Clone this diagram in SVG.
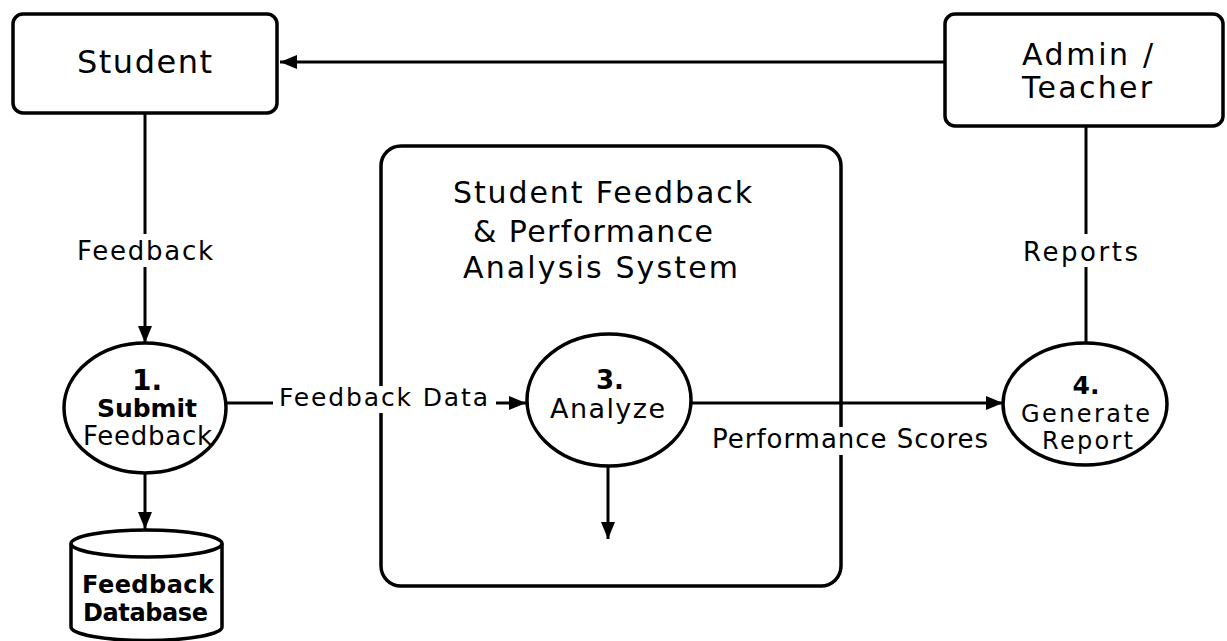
<svg xmlns="http://www.w3.org/2000/svg" width="1227" height="641" viewBox="0 0 1227 641">
<style>
.box{fill:#fff;stroke:#000;stroke-width:3.5}
.ln{fill:none;stroke:#000;stroke-width:3}
.t{font-family:"DejaVu Sans","Liberation Sans",Arial,sans-serif;fill:#000}
.b{font-weight:bold}
.bg{fill:#fff}
</style>
<defs>
<marker id="arr" markerUnits="userSpaceOnUse" markerWidth="18" markerHeight="14" refX="17" refY="7" orient="auto">
<path d="M0,0 L17,7 L0,14 Z" fill="#000"/>
</marker>
</defs>
<rect width="1227" height="641" fill="#fff"/>
<g id="system">
<rect class="box" x="381" y="146" width="460" height="440" rx="20"/>
<text class="t" font-size="30" x="453" y="203" textLength="299" lengthAdjust="spacing">Student Feedback</text>
<text class="t" font-size="30" x="473" y="242" textLength="240" lengthAdjust="spacing">&amp; Performance</text>
<text class="t" font-size="30" x="463" y="278" textLength="275" lengthAdjust="spacing">Analysis System</text>
</g>
<g id="student">
<rect class="box" x="13" y="14" width="264" height="99" rx="10"/>
<text class="t" font-size="32" x="77" y="73" textLength="135" lengthAdjust="spacing">Student</text>
</g>
<g id="admin">
<rect class="box" x="945" y="14" width="278" height="112" rx="10"/>
<text class="t" font-size="30" x="1022" y="65" textLength="131" lengthAdjust="spacing">Admin /</text>
<text class="t" font-size="30" x="1022" y="98" textLength="130" lengthAdjust="spacing">Teacher</text>
</g>
<g id="p1">
<ellipse class="box" cx="145" cy="408" rx="81" ry="65"/>
<text class="t b" font-size="28" x="147" y="390" text-anchor="middle">1.</text>
<text class="t b" font-size="25" x="97" y="417" textLength="100" lengthAdjust="spacing">Submit</text>
<text class="t" font-size="26" x="83" y="445" textLength="129" lengthAdjust="spacing">Feedback</text>
</g>
<g id="p3">
<ellipse class="box" cx="609" cy="400" rx="82" ry="66"/>
<text class="t b" font-size="26" x="610" y="389" text-anchor="middle">3.</text>
<text class="t" font-size="27" x="550" y="418" textLength="115" lengthAdjust="spacing">Analyze</text>
</g>
<g id="p4">
<ellipse class="box" cx="1085" cy="404" rx="82" ry="61"/>
<text class="t b" font-size="25" x="1086" y="394" text-anchor="middle">4.</text>
<text class="t" font-size="24" x="1021" y="422" textLength="129" lengthAdjust="spacing">Generate</text>
<text class="t" font-size="24" x="1042" y="449" textLength="91" lengthAdjust="spacing">Report</text>
</g>
<g id="db">
<path class="box" d="M71,543.5 L71,627 A75.5,13.5 0 0 0 222,627 L222,543.5"/>
<ellipse class="box" cx="146.5" cy="543.5" rx="75.5" ry="13.5"/>
<text class="t b" font-size="24" x="82" y="593" textLength="132" lengthAdjust="spacing">Feedback</text>
<text class="t b" font-size="24" x="83" y="621" textLength="125" lengthAdjust="spacing">Database</text>
</g>
<g id="connectors">
<line class="ln" x1="945" y1="62" x2="280" y2="62" marker-end="url(#arr)"/>
<line class="ln" x1="145" y1="113" x2="145" y2="343" marker-end="url(#arr)"/>
<line class="ln" x1="145" y1="473" x2="145" y2="529" marker-end="url(#arr)"/>
<line class="ln" x1="226" y1="403" x2="273" y2="403"/>
<line class="ln" x1="496" y1="403" x2="526" y2="403" marker-end="url(#arr)"/>
<line class="ln" x1="691" y1="403" x2="1003" y2="403" marker-end="url(#arr)"/>
<line class="ln" x1="608" y1="466" x2="608" y2="539" marker-end="url(#arr)"/>
<line class="ln" x1="1086" y1="126" x2="1086" y2="343"/>
</g>
<g id="labels">
<rect class="bg" x="75" y="234" width="140" height="33"/>
<text class="t" font-size="26" x="77" y="260" textLength="136" lengthAdjust="spacing">Feedback</text>
<rect class="bg" x="1020" y="234" width="121" height="33"/>
<text class="t" font-size="26" x="1023" y="261" textLength="115" lengthAdjust="spacing">Reports</text>
<rect class="bg" x="277" y="386" width="214" height="27"/>
<text class="t" font-size="25" x="279" y="406" textLength="209" lengthAdjust="spacing">Feedback Data</text>
<rect class="bg" x="709" y="427" width="282" height="28"/>
<text class="t" font-size="26" x="712" y="448" textLength="276" lengthAdjust="spacing">Performance Scores</text>
</g>
</svg>
